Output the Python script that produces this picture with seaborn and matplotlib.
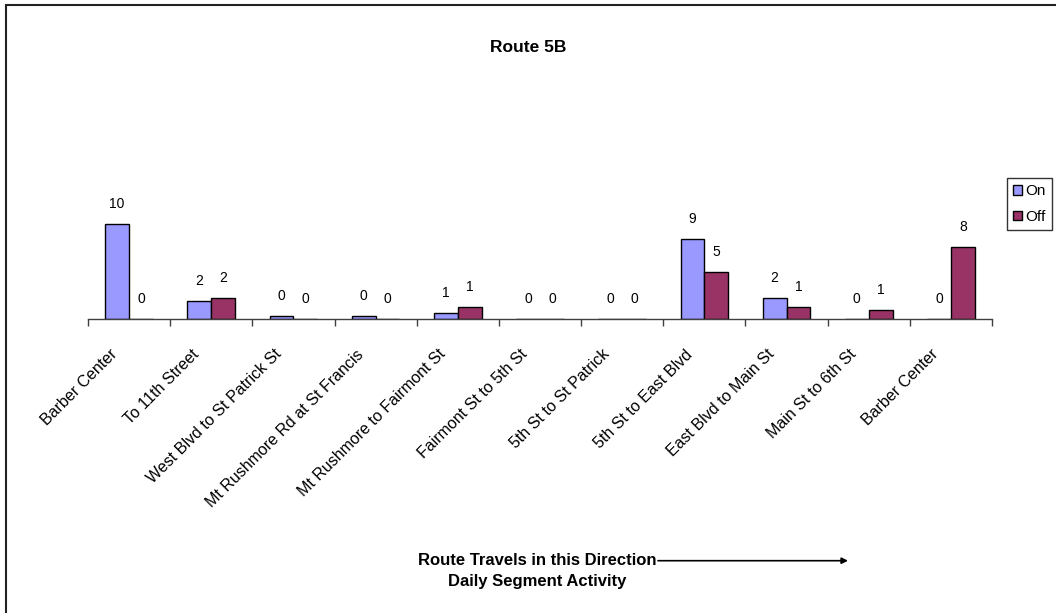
import matplotlib
matplotlib.use("Agg")
import matplotlib.pyplot as plt
from matplotlib.patches import Patch, Rectangle
from matplotlib.transforms import ScaledTranslation
import pandas as pd
import seaborn as sns

# Route segments (in travel order) and daily boardings / alightings
segments = [
    "Barber Center", "To 11th Street", "West Blvd to St Patrick St",
    "Mt Rushmore Rd at St Francis", "Mt Rushmore to Fairmont St",
    "Fairmont St to 5th St", "5th St to St Patrick", "5th St to East Blvd",
    "East Blvd to Main St", "Main St to 6th St", "Barber Center",
]
on_counts = [10.4, 1.9, 0.3, 0.3, 0.6, 0.0, 0.0, 8.8, 2.3, 0.0, 0.0]
off_counts = [0.0, 2.3, 0.0, 0.0, 1.3, 0.0, 0.0, 5.1, 1.3, 0.9, 7.9]
series_names = ["On", "Off"]
series_colors = ["#9999FF", "#993366"]

plt.rcParams["font.family"] = ["Liberation Sans", "DejaVu Sans"]

W, H = 1056, 613
fig = plt.figure(figsize=(W / 100, H / 100), dpi=100)
fig.patch.set_facecolor("white")

# axes placed in pixel terms: x axis runs 88..992, baseline at y=318.7 (from top)
left, right, base, top = 88, 992, 318.7, 100
ax = fig.add_axes([left / W, (H - base) / H, (right - left) / W, (base - top) / H])

idx = list(range(len(segments)))
df = pd.DataFrame({
    "pos": idx * 2,
    "count": on_counts + off_counts,
    "kind": [series_names[0]] * len(idx) + [series_names[1]] * len(idx),
})

sns.barplot(data=df, x="pos", y="count", hue="kind", hue_order=series_names,
            palette=series_colors, width=0.58, edgecolor="black", linewidth=1.0,
            saturation=1, legend=False, ax=ax)

ax.set_xlim(-0.5, len(segments) - 0.5)
ax.set_ylim(0, 24)

# value labels above each bar
for container in ax.containers:
    for bar in container:
        h = bar.get_height()
        ax.annotate(f"{h:.0f}", (bar.get_x() + bar.get_width() / 2, h),
                    xytext=(0, 20), textcoords="offset pixels",
                    ha="center", va="center", fontsize=10, color="black")

# tick marks on category boundaries, labels at category centres
ax.set_xticks([i - 0.5 for i in range(len(segments) + 1)])
ax.set_xticklabels([])
ax.set_xticks(idx, minor=True)
ax.set_xticklabels(segments, minor=True, rotation=45, ha="right", va="top",
                   rotation_mode="anchor", fontsize=11.5)
ax.tick_params(axis="x", which="major", length=5, width=1, color="#404040",
               direction="out")
ax.tick_params(axis="x", which="minor", length=0, pad=0)
shift = ScaledTranslation(-0.20, -0.28, fig.dpi_scale_trans)
for lab in ax.get_xticklabels(minor=True):
    lab.set_transform(lab.get_transform() + shift)
ax.set_yticks([])
ax.set_xlabel("")
ax.set_ylabel("")
for side in ["left", "right", "top"]:
    ax.spines[side].set_visible(False)
ax.spines["bottom"].set_color("#404040")
ax.spines["bottom"].set_linewidth(1)
ax.patch.set_alpha(0)

# chart title
fig.text(528 / W, 1 - 47 / H, "Route 5B", ha="center", va="center",
         fontsize=12.5, fontweight="bold")

# direction caption with arrow
fig.text(537 / W, 1 - 560.7 / H, "Route Travels in this Direction",
         ha="center", va="center", fontsize=12, fontweight="bold")
fig.text(537 / W, 1 - 581.7 / H, "Daily Segment Activity",
         ha="center", va="center", fontsize=12, fontweight="bold")
ax.annotate("", xy=(848, H - 560.7), xytext=(658, H - 560.7),
            xycoords="figure pixels", textcoords="figure pixels",
            arrowprops=dict(arrowstyle="-|>", lw=1.2, color="black",
                            mutation_scale=9, shrinkA=0, shrinkB=0))

# legend
handles = [Patch(facecolor=c, edgecolor="black", linewidth=1, label=n)
           for n, c in zip(series_names, series_colors)]
leg = fig.legend(handles=handles, loc="lower left",
                 bbox_to_anchor=(1007 / W, (H - 230) / H),
                 frameon=True, fancybox=False, fontsize=11,
                 handlelength=0.6, handleheight=0.6, handletextpad=0.2,
                 labelspacing=0.75, borderpad=0.4, borderaxespad=0)
leg.get_frame().set_edgecolor("black")
leg.get_frame().set_linewidth(1)

# outer chart border
fig.add_artist(Rectangle((6 / W, -0.1), 1.2, 1.1 - 5 / H,
                         transform=fig.transFigure, fill=False,
                         edgecolor="#222222", linewidth=1.5))

fig.savefig("out.png", dpi=100)
